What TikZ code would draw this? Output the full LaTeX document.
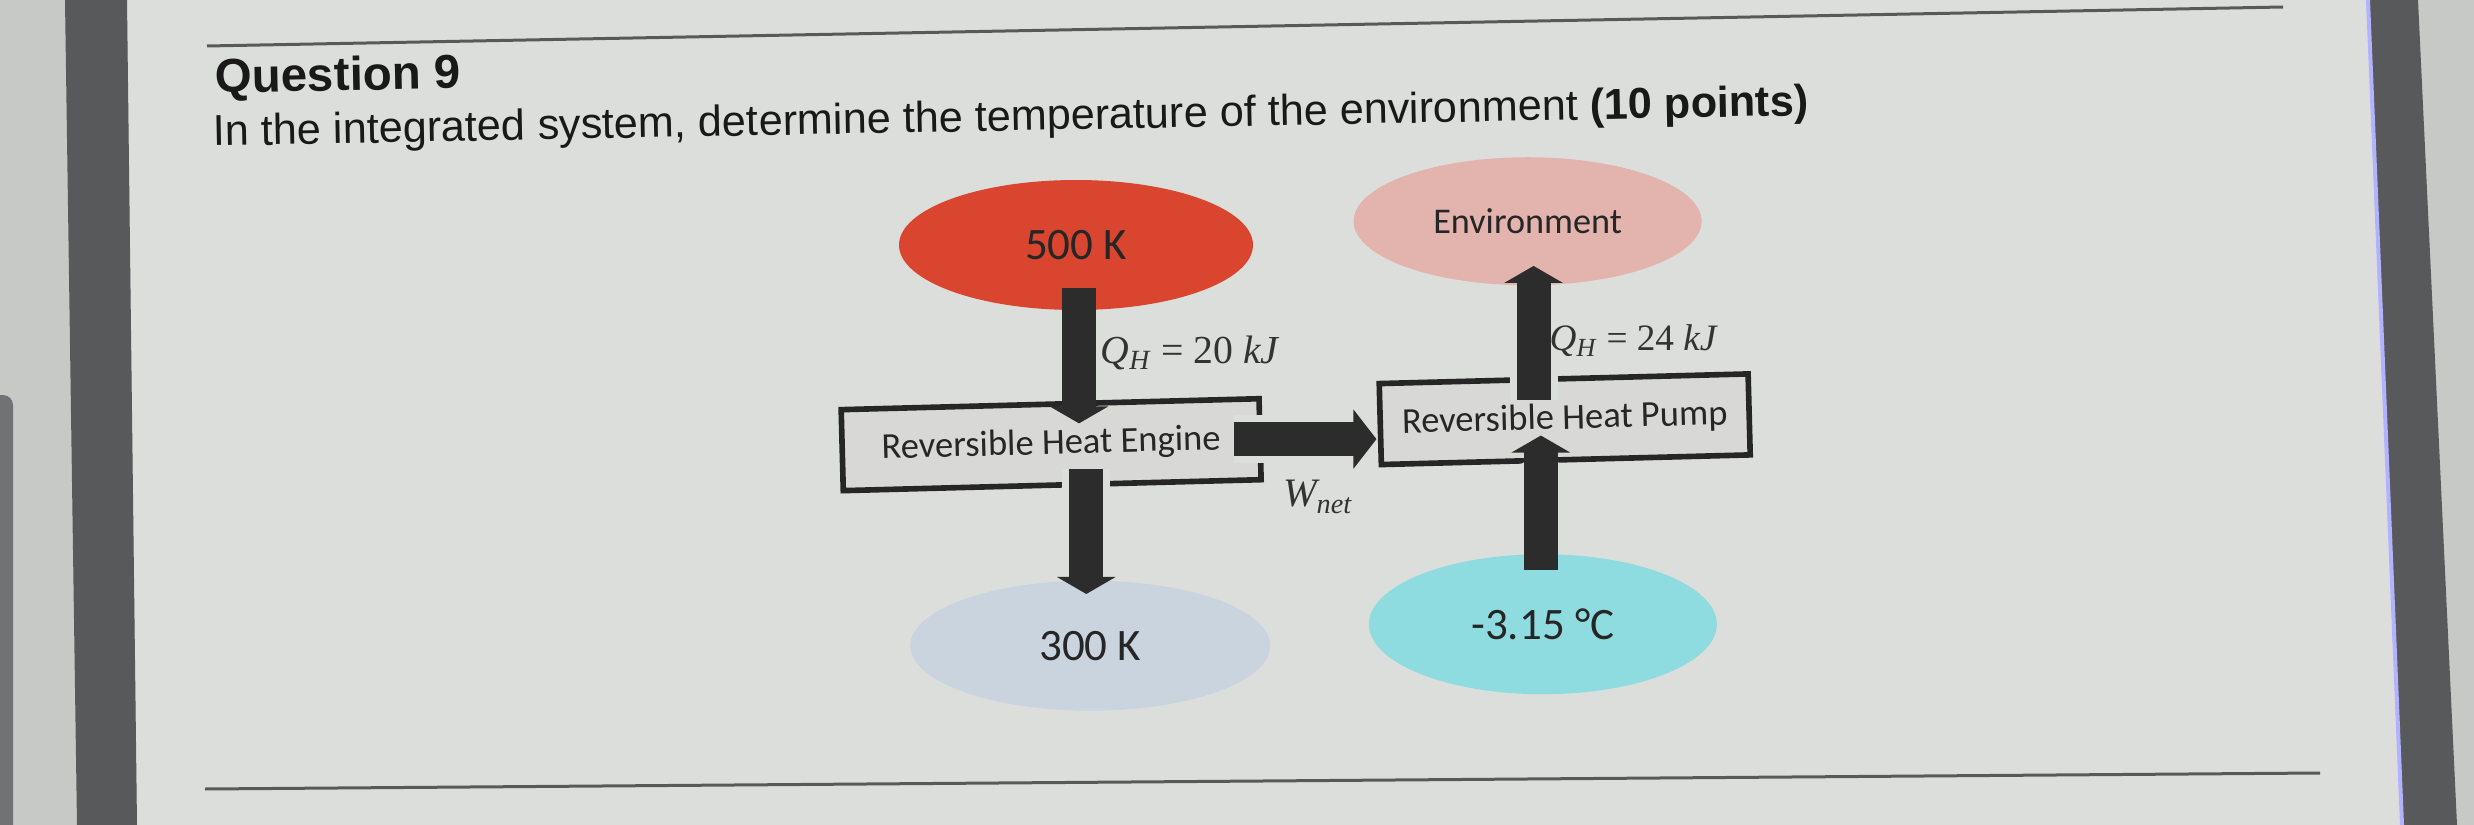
\documentclass[tikz,border=0pt]{standalone}
\usepackage{fontspec}
\setmainfont{Carlito}
\newfontfamily\headfont{Liberation Sans}
\newfontfamily\eqfont{Liberation Serif}
\definecolor{hot}{HTML}{D9452F}
\definecolor{env}{HTML}{E2B4AD}
\definecolor{cold}{HTML}{CAD4DE}
\definecolor{amb}{HTML}{8FDCE0}
\definecolor{box}{HTML}{D8D9D6}
\definecolor{arr}{HTML}{2C2C2C}
\definecolor{page}{HTML}{DCDEDB}
\definecolor{desk}{HTML}{C7C9C6}
\definecolor{band}{HTML}{58595A}
\usetikzlibrary{
  arrows.meta,       % block arrow heads
  shapes.geometric,  % ellipses for the reservoirs
  positioning        % below=of, right=of
}
\tikzset{
    node distance=9mm and 11.5mm,
    reservoir/.style = {
        ellipse,
        draw=none,
        inner sep=0pt,
        text=black!85,
        font=\fontsize{12.8}{14}\selectfont
    },
    hot/.append style = {reservoir, fill=hot, minimum width=35.4mm, minimum height=13mm},
    env/.append style = {reservoir, fill=env, minimum width=34.8mm, minimum height=12.8mm,
        font=\fontsize{10.3}{12}\selectfont},
    cold/.append style = {reservoir, fill=cold, minimum width=36mm, minimum height=13mm},
    amb/.append style = {reservoir, fill=amb, minimum width=34.8mm, minimum height=14mm},
    device/.style = {
        rectangle,
        draw=black!85,
        line width=1.6pt,
        fill=box,
        inner sep=0pt,
        minimum height=8.1mm,
        rotate=1.5,
        text=black!85,
        font=\fontsize{10.4}{12}\selectfont
    },
    % the gap where a flow crosses a box border
    heat/.style = {
        draw=arr,
        line width=3.4mm,
        preaction={draw=page, line width=4.8mm, shorten <=#1, shorten >=1.7mm},
        -{Triangle[length=1.7mm, width=5.8mm]}
    },
    heat/.default = 0mm,
    work/.style = {
        draw=arr,
        line width=3.4mm,
        preaction={draw=page, line width=4.8mm, shorten >=2.3mm},
        -{Triangle[length=2.3mm, width=5.8mm]}
    },
    eqlabel/.style = {inner sep=0pt, text=black!80},
    heading/.style = {inner sep=0pt, text=black!90, rotate=1.1}
}

\begin{document}
\begin{tikzpicture}[x=0.1mm, y=-0.1mm]

  %% photo background
  \useasboundingbox (0,0) rectangle (2474,825);
  \fill [desk] (0,0) rectangle (2474,825);
  \fill [page] (127,0) -- (2368,0) -- (2402,825) -- (137,825) -- cycle;
  \fill [band] (65,0) -- (127,0) -- (137,825) -- (77,825) -- cycle;
  \fill [band] (2368,0) -- (2418,0) -- (2457,825) -- (2402,825) -- cycle;
  \draw [blue!30!white, line width=0.4mm] (2368,0) -- (2402,825);
  \fill [band!85, rounded corners=1mm] (-10,395) rectangle (13,840);
  \draw [black!65, line width=0.3mm] (207,46) -- (2283,7);
  \draw [black!65, line width=0.3mm] (205,789) -- (2320,773);

  %% question
  \node [heading, anchor=base west, font=\headfont\bfseries\fontsize{13.5}{16}\selectfont]
    (q9) at (215,93) {Question 9};
  \node [heading, anchor=base west, font=\headfont\fontsize{12.3}{15}\selectfont]
    (task) at (213,146) {In the integrated system, determine the temperature of the environment \textbf{(10 points)}};

  %% heat engine
  \node [hot] (T500) at (1076,245) {500 K};
  \node [device, minimum width=41.8mm, below=of T500, xshift=-2.6mm] (RHE) {Reversible Heat Engine};
  \node [cold, below=9.2mm of RHE, xshift=3.8mm] (T300) {300 K};

  %% heat pump
  \node [device, minimum width=36.9mm, right=of RHE, yshift=1.5mm] (RHP) {Reversible Heat Pump};
  \node [env, above=of RHP, xshift=-3.6mm] (Tenv) {Environment};
  \node [amb, below=9.1mm of RHP, xshift=-2.3mm] (Tamb) {-3.15 °C};

  %% flows
  \draw [heat=2.6mm] ([xshift=.3mm, yshift=2.3mm]T500.south) -- ([xshift=.3mm, yshift=-2.2mm]T500.south |- RHE.north);
  \draw [heat] ([xshift=-.4mm, yshift=1.9mm]T300.north |- RHE.south) -- ([xshift=-.4mm, yshift=-1.4mm]T300.north);
  \draw [work] ([xshift=-2.9mm]RHE.east) -- ([xshift=-.1mm]RHE.east -| RHP.west);
  \draw [heat] ([xshift=.6mm, yshift=-2.4mm]Tenv.south |- RHP.north) -- ([xshift=.6mm, yshift=2mm]Tenv.south);
  \draw [heat=2mm] ([xshift=-.2mm, yshift=-1.6mm]Tamb.north) -- ([xshift=-.2mm, yshift=2.7mm]Tamb.north |- RHP.south);

  %% labels
  \node [eqlabel, anchor=west, font=\eqfont\fontsize{11.3}{13}\selectfont] (QHe) at (1100,353)
    {\itshape Q\textsubscript{H} {\upshape = 20} kJ};
  \node [eqlabel, anchor=west, font=\eqfont\fontsize{10.6}{12}\selectfont] (QHp) at (1549,341)
    {\itshape Q\textsubscript{H} {\upshape = 24} kJ};
  \node [eqlabel, font=\eqfont\fontsize{11.5}{13}\selectfont] (Wnet) at (1318,497)
    {\itshape W\textsubscript{net}};

\end{tikzpicture}
\end{document}
